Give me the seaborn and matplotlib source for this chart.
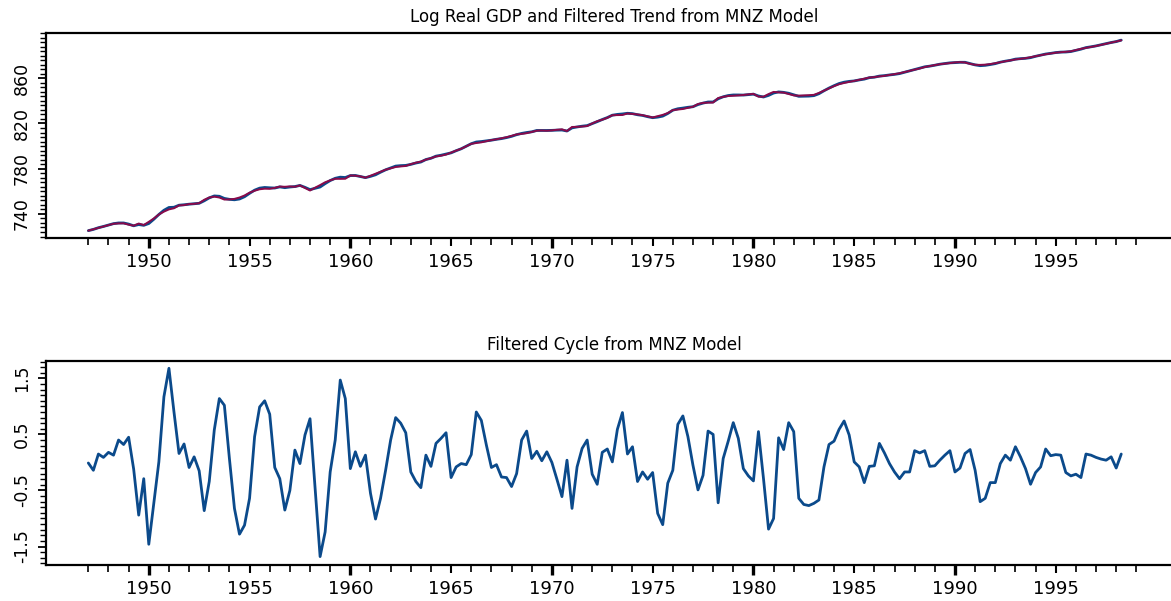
import numpy as np
import pandas as pd
import matplotlib
matplotlib.use("Agg")
import matplotlib.pyplot as plt
from matplotlib.ticker import MultipleLocator, FixedLocator
import seaborn as sns

# ---------------- data (quarterly, 1947Q1 - 1998Q2) ----------------
start_year = 1947
gdp = [725.2, 726.3, 727.8, 728.9, 730.2, 731.4, 732.0, 732.0, 731.0, 729.5,
       730.6, 729.9, 731.5, 735.3, 739.5, 743.2, 745.7, 745.9, 747.7, 748.1,
       748.6, 749.0, 749.4, 751.6, 754.2, 755.9, 755.6, 753.7, 752.9, 752.5,
       753.2, 755.2, 758.2, 761.0, 762.8, 763.4, 763.1, 762.9, 763.9, 763.2,
       763.8, 764.2, 765.2, 763.5, 761.5, 762.7, 763.8, 766.8, 769.5, 771.5,
       772.5, 772.2, 773.9, 774.0, 773.1, 772.1, 773.2, 774.6, 776.9, 779.0,
       780.7, 782.3, 782.7, 782.9, 783.8, 785.0, 785.9, 788.1, 789.2, 791.1,
       791.9, 793.0, 794.0, 795.9, 797.6, 799.8, 802.1, 803.6, 804.0, 804.6,
       805.2, 806.0, 806.6, 807.5, 808.6, 810.1, 811.2, 812.0, 812.6, 813.8,
       813.8, 813.8, 813.9, 814.1, 814.2, 813.3, 816.1, 816.9, 817.6, 818.1,
       819.8, 821.6, 823.5, 825.2, 827.3, 828.0, 828.4, 829.0, 828.7, 827.7,
       827.1, 826.0, 825.1, 825.6, 826.5, 828.8, 831.7, 833.0, 833.6, 834.3,
       834.8, 836.7, 838.0, 839.0, 839.0, 841.8, 843.6, 844.7, 845.2, 845.2,
       845.1, 845.5, 845.9, 844.3, 843.4, 844.8, 846.9, 847.9, 847.5, 846.7,
       845.4, 844.0, 844.1, 844.2, 844.6, 846.3, 848.9, 851.3, 853.4, 855.3,
       856.5, 857.2, 857.6, 858.5, 859.2, 860.5, 860.9, 861.9, 862.3, 862.9,
       863.4, 864.1, 865.3, 866.5, 867.8, 868.8, 870.1, 870.7, 871.5, 872.4,
       873.0, 873.6, 873.8, 874.1, 874.1, 872.9, 871.8, 871.1, 871.4, 872.1,
       872.9, 874.2, 875.1, 875.8, 876.9, 877.3, 877.6, 878.2, 879.4, 880.4,
       881.4, 882.0, 882.7, 883.1, 883.2, 883.6, 884.7, 885.7, 887.1, 887.8,
       888.6, 889.6, 890.5, 891.6, 892.4, 893.7]

trend = [725.2, 726.4, 727.6, 728.8, 730.0, 731.3, 731.6, 731.7, 730.5, 729.6,
         731.5, 730.2, 733.0, 736.0, 739.5, 742.0, 744.0, 745.0, 747.5, 747.8,
         748.7, 748.9, 749.5, 752.5, 754.5, 755.3, 754.5, 752.7, 752.8, 753.3,
         754.5, 756.3, 758.8, 760.5, 761.8, 762.3, 762.2, 763.0, 764.2, 764.0,
         764.3, 764.0, 765.2, 763.0, 760.7, 763.2, 765.5, 768.0, 769.7, 771.1,
         771.0, 771.1, 774.0, 773.8, 773.2, 772.0, 773.8, 775.6, 777.5, 779.1,
         780.3, 781.5, 782.0, 782.4, 784.0, 785.3, 786.3, 788.0, 789.3, 790.8,
         791.5, 792.5, 794.3, 796.0, 797.6, 799.8, 802.0, 802.7, 803.3, 804.3,
         805.3, 806.0, 806.9, 807.8, 809.0, 810.3, 810.8, 811.4, 812.5, 813.6,
         813.8, 813.6, 813.9, 814.4, 814.8, 813.3, 816.9, 817.0, 817.3, 817.7,
         820.0, 822.0, 823.3, 825.0, 827.3, 827.4, 827.5, 828.8, 828.4, 828.0,
         827.3, 826.3, 825.3, 826.5, 827.6, 829.2, 831.8, 832.3, 832.8, 833.8,
         834.8, 837.2, 838.2, 838.4, 838.5, 842.5, 843.5, 844.3, 844.5, 844.8,
         845.2, 845.7, 846.2, 843.7, 843.7, 846.0, 847.9, 847.5, 847.3, 846.0,
         844.8, 844.6, 844.8, 845.0, 845.3, 847.0, 849.0, 851.0, 853.0, 854.7,
         855.8, 856.7, 857.6, 858.6, 859.6, 860.6, 861.0, 861.6, 862.1, 862.9,
         863.6, 864.4, 865.5, 866.7, 867.6, 868.6, 869.9, 870.8, 871.6, 872.4,
         872.9, 873.4, 874.0, 874.2, 873.9, 872.7, 871.9, 871.8, 872.0, 872.5,
         873.3, 874.2, 875.0, 875.8, 876.6, 877.2, 877.7, 878.6, 879.6, 880.5,
         881.2, 881.9, 882.6, 883.0, 883.4, 883.8, 884.9, 886.0, 886.9, 887.7,
         888.5, 889.5, 890.5, 891.5, 892.5, 893.5]

cycle = [-0.01, -0.14, 0.15, 0.09, 0.18, 0.13, 0.40, 0.32, 0.45, -0.12,
         -0.94, -0.29, -1.46, -0.72, 0.01, 1.17, 1.68, 0.90, 0.16, 0.33,
         -0.09, 0.10, -0.15, -0.86, -0.34, 0.58, 1.14, 1.02, 0.07, -0.82,
         -1.28, -1.12, -0.64, 0.46, 0.99, 1.10, 0.86, -0.09, -0.29, -0.85,
         -0.50, 0.22, -0.02, 0.49, 0.78, -0.46, -1.68, -1.24, -0.17, 0.40,
         1.47, 1.14, -0.11, 0.19, -0.07, 0.13, -0.55, -1.01, -0.64, -0.14,
         0.40, 0.80, 0.70, 0.53, -0.17, -0.34, -0.45, 0.13, -0.07, 0.34,
         0.43, 0.53, -0.27, -0.08, -0.02, -0.04, 0.14, 0.90, 0.75, 0.31,
         -0.09, -0.04, -0.26, -0.27, -0.43, -0.20, 0.40, 0.56, 0.07, 0.20,
         0.03, 0.19, 0.00, -0.30, -0.61, 0.04, -0.82, -0.08, 0.25, 0.40,
         -0.21, -0.39, 0.18, 0.24, 0.01, 0.59, 0.89, 0.15, 0.28, -0.34,
         -0.17, -0.30, -0.18, -0.91, -1.11, -0.37, -0.14, 0.68, 0.83, 0.46,
         -0.05, -0.49, -0.23, 0.56, 0.50, -0.72, 0.07, 0.38, 0.71, 0.43,
         -0.11, -0.24, -0.33, 0.55, -0.29, -1.19, -1.00, 0.44, 0.23, 0.71,
         0.55, -0.64, -0.75, -0.77, -0.73, -0.67, -0.08, 0.32, 0.38, 0.59,
         0.74, 0.49, 0.01, -0.08, -0.36, -0.07, -0.06, 0.34, 0.17, -0.02,
         -0.17, -0.29, -0.17, -0.17, 0.21, 0.17, 0.21, -0.07, -0.06, 0.04,
         0.13, 0.21, -0.17, -0.10, 0.16, 0.23, -0.14, -0.70, -0.64, -0.36,
         -0.36, -0.02, 0.13, 0.04, 0.28, 0.10, -0.11, -0.39, -0.18, -0.08,
         0.24, 0.12, 0.14, 0.13, -0.18, -0.24, -0.21, -0.27, 0.15, 0.13,
         0.09, 0.06, 0.04, 0.10, -0.10, 0.15]

top_title = "Log Real GDP and Filtered Trend from MNZ Model"
bottom_title = "Filtered Cycle from MNZ Model"
top_yticks = [740, 780, 820, 860]
bottom_yticks = [-1.5, -0.5, 0.5, 1.5]
year_labels = [1950, 1955, 1960, 1965, 1970, 1975, 1980, 1985, 1990, 1995]
decade_labels = [1950, 1960, 1970, 1980, 1990]

# ---------------- styling ----------------
sns.set_style("ticks")
plt.rcParams["font.family"] = ["DejaVu Sans"]
plt.rcParams["text.color"] = "black"
plt.rcParams["xtick.color"] = "black"
plt.rcParams["ytick.color"] = "black"

n = len(cycle)
time = start_year + np.arange(n) / 4.0
df = pd.DataFrame({"time": time, "gdp": gdp, "trend": trend, "cycle": cycle})

blue = "#0b4a8b"
maroon = "#8a0a4a"

fig = plt.figure(figsize=(11.71, 6.01), dpi=100)
ax1 = fig.add_axes([46 / 1171, 1 - 238 / 601, 1 - 46 / 1171 + 0.01, 205 / 601])
ax2 = fig.add_axes([46 / 1171, 1 - 565 / 601, 1 - 46 / 1171 + 0.01, 204 / 601])

sns.lineplot(data=df, x="time", y="gdp", ax=ax1, color=blue, linewidth=2.0)
sns.lineplot(data=df, x="time", y="trend", ax=ax1, color=maroon, linewidth=1.4)
sns.lineplot(data=df, x="time", y="cycle", ax=ax2, color=blue, linewidth=2.0)

year_ticks_minor = [y for y in range(1947, 2000) if y not in year_labels]

for ax, title, yt, ylim, yminor, fmt in [
    (ax1, top_title, top_yticks, (718.7, 900.0), 4, "{:.0f}"),
    (ax2, bottom_title, bottom_yticks, (-1.83, 1.81), 0.1, "{:.1f}"),
]:
    ax.set_xlim(1944.9, 2001.3)
    ax.set_ylim(*ylim)
    ax.set_xlabel("")
    ax.set_ylabel("")
    ax.set_title(title, fontsize=12, pad=8, color="black")
    ax.xaxis.set_major_locator(FixedLocator(year_labels))
    ax.xaxis.set_minor_locator(FixedLocator(year_ticks_minor))
    ax.set_xticklabels([str(y) for y in year_labels], fontsize=13)
    ax.tick_params(axis="x", which="major", length=6, width=1.5, pad=5,
                   colors="black")
    ax.tick_params(axis="x", which="minor", length=5, width=1.2)
    for lbl_tick, yr in zip(ax.xaxis.get_major_ticks(), year_labels):
        if yr in decade_labels:
            lbl_tick.tick1line.set_markeredgewidth(2.4)
            lbl_tick.tick1line.set_markersize(7)
    ax.set_yticks(yt)
    ax.set_yticklabels([fmt.format(v) for v in yt], rotation=90,
                       va="center", fontsize=12.5)
    ax.yaxis.set_minor_locator(MultipleLocator(yminor))
    ax.tick_params(axis="y", which="major", length=6, width=1.3, pad=5,
                   colors="black")
    ax.tick_params(axis="y", which="minor", length=4, width=1.0)
    for s in ["left", "top", "bottom"]:
        ax.spines[s].set_linewidth(1.6)
        ax.spines[s].set_color("black")
    ax.spines["right"].set_visible(False)

fig.savefig("out.png", dpi=100)
